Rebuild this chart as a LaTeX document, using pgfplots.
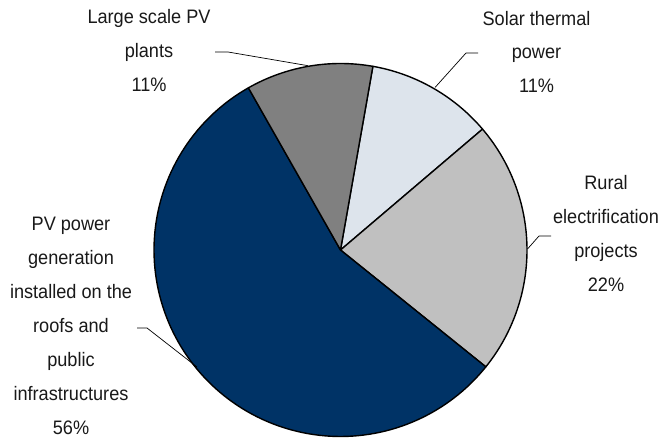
\documentclass[border=0pt]{standalone}
\usepackage{pgfplots}
\pgfplotsset{compat=1.18}
\usepackage{pgfplotstable}
\usepackage{fontspec}
\setmainfont{Liberation Sans}[FakeStretch=0.93]

\definecolor{pvnavy}{HTML}{003366}
\definecolor{largegrey}{HTML}{808080}
\definecolor{solarpale}{HTML}{DDE4EC}
\definecolor{ruralgrey}{HTML}{C0C0C0}

% Shares in percent, clockwise from the top:
% solar thermal, rural electrification, PV on roofs, large scale PV
\pgfplotstableread{
share
11
22
56
11
}\piedata

% Pie geometry (axis units = bp, y grows downwards)
\newcommand\pieX{340.5}
\newcommand\pieY{250}
\newcommand\pieR{186.5}
\newcommand\pieStart{80}

\tikzset{
  lbl/.style={anchor=base, inner sep=0pt, text=black!90,
    font=\fontsize{19.5bp}{22bp}\selectfont},
  leader/.style={draw=black, line width=0.7bp},
  wedge/.style={draw=black, line width=1.4bp, line join=round},
}

\begin{document}%
\begin{tikzpicture}
% cumulative wedge boundary angles
\pgfplotstablegetelem{0}{share}\of\piedata
\pgfmathsetmacro\angA{\pieStart-3.6*\pgfplotsretval}
\pgfplotstablegetelem{1}{share}\of\piedata
\pgfmathsetmacro\angB{\angA-3.6*\pgfplotsretval}
\pgfplotstablegetelem{2}{share}\of\piedata
\pgfmathsetmacro\angC{\angB-3.6*\pgfplotsretval}
\pgfplotstablegetelem{3}{share}\of\piedata
\pgfmathsetmacro\angD{\angC-3.6*\pgfplotsretval}
\begin{axis}[
  scale only axis, width=659bp, height=440bp,
  xmin=0, xmax=659, ymin=0, ymax=440, y dir=reverse,
  hide axis, clip=false,
]
% wedges
\filldraw[wedge, fill=solarpale] (\pieX,\pieY) --
  plot[domain=\pieStart:\angA, samples=40] ({\pieX+\pieR*cos(\x)},{\pieY-\pieR*sin(\x)}) -- cycle;
\filldraw[wedge, fill=ruralgrey] (\pieX,\pieY) --
  plot[domain=\angA:\angB, samples=60] ({\pieX+\pieR*cos(\x)},{\pieY-\pieR*sin(\x)}) -- cycle;
\filldraw[wedge, fill=pvnavy] (\pieX,\pieY) --
  plot[domain=\angB:\angC, samples=120] ({\pieX+\pieR*cos(\x)},{\pieY-\pieR*sin(\x)}) -- cycle;
\filldraw[wedge, fill=largegrey] (\pieX,\pieY) --
  plot[domain=\angC:\angD, samples=40] ({\pieX+\pieR*cos(\x)},{\pieY-\pieR*sin(\x)}) -- cycle;

% leader lines
\draw[leader] (215,52) -- (228,52) -- (308,65.7);
\draw[leader] (478,53) -- (466,53) -- (435,87.5);
\draw[leader] (551,236) -- (539,236) -- (527.5,249);
\draw[leader] (137,328) -- (147,328) -- (197,367);

% labels
\node[lbl] at (149,23.5) {Large scale PV};
\node[lbl] at (149,57.5) {plants};
\node[lbl] at (149,91.5) {11\%};

\node[lbl] at (536.5,25.5) {Solar thermal};
\node[lbl] at (536.5,59) {power};
\node[lbl] at (536.5,92.5) {11\%};

\node[lbl] at (606,189.5) {Rural};
\node[lbl] at (606,223.5) {electrification};
\node[lbl] at (606,257.5) {projects};
\node[lbl] at (606,291.5) {22\%};

\node[lbl] at (71,231) {PV power};
\node[lbl] at (71,265) {generation};
\node[lbl] at (71,299) {installed on the};
\node[lbl] at (71,333) {roofs and};
\node[lbl] at (71,367) {public};
\node[lbl] at (71,401) {infrastructures};
\node[lbl] at (71,435) {56\%};
\end{axis}
\pgfresetboundingbox
\path (current axis.south west) rectangle (current axis.north east);
\end{tikzpicture}%
\end{document}
